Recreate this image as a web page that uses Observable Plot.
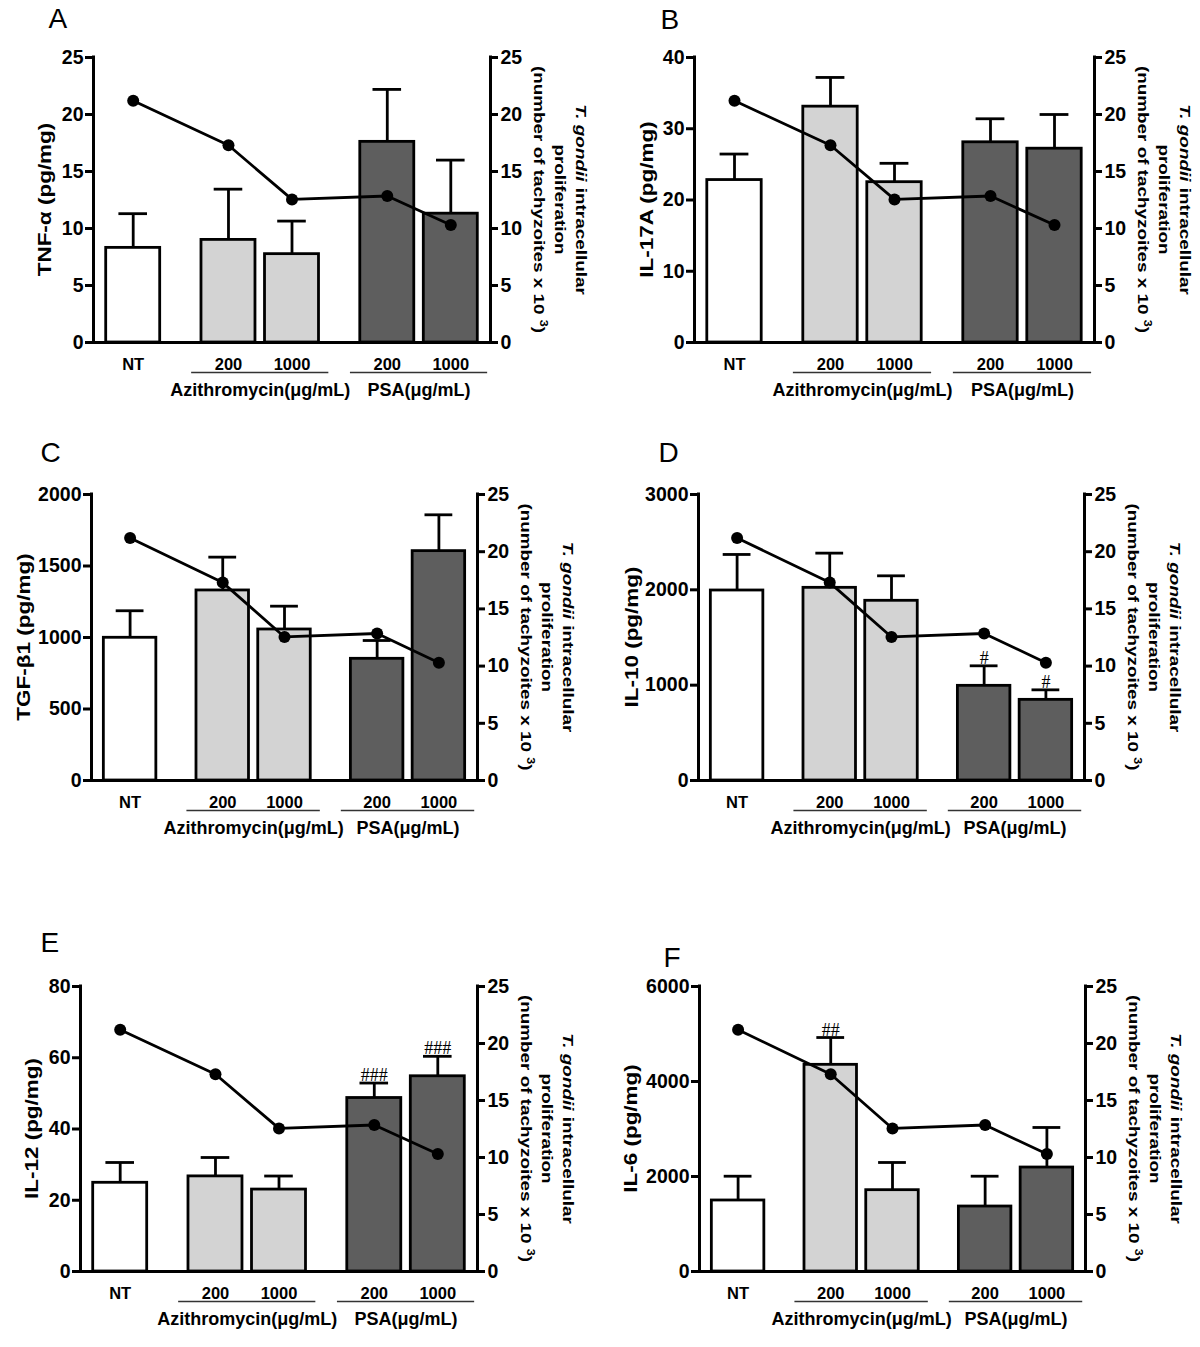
<!DOCTYPE html>
<html><head><meta charset="utf-8">
<script src="https://cdn.jsdelivr.net/npm/d3@7"></script>
<script src="https://cdn.jsdelivr.net/npm/@observablehq/plot@0.6"></script>
<style>
html,body{margin:0;padding:0;background:#fff;}
#fig{position:relative;width:1200px;height:1347px;overflow:hidden;background:#fff;}
.panel{position:absolute;}
</style></head><body><div id="fig"></div>
<script>
// ---------- data ----------
const categories = ["NT", "200", "1000", "200", "1000"];
const groupOf = ["NT", "Azithromycin", "Azithromycin", "PSA", "PSA"];
const groupNames = ["NT", "Azithromycin", "PSA"];
const groupLabels = ["", "Azithromycin(μg/mL)", "PSA(μg/mL)"];
const proliferation = [21.2, 17.3, 12.55, 12.85, 10.3]; // T. gondii x10^3 (right axis)
const rightTicks = [0, 5, 10, 15, 20, 25];

const tnfMean = [8.3, 9.0, 7.75, 17.6, 11.3];
const tnfSem = [3.0, 4.45, 2.9, 4.6, 4.7];
const tnfTicks = [0, 5, 10, 15, 20, 25];

const il17Mean = [22.8, 33.1, 22.5, 28.1, 27.2];
const il17Sem = [3.65, 4.1, 2.65, 3.3, 4.8];
const il17Ticks = [0, 10, 20, 30, 40];

const tgfMean = [998, 1329, 1056, 851, 1604];
const tgfSem = [189, 233, 163, 128, 254];
const tgfTicks = [0, 500, 1000, 1500, 2000];

const il10Mean = [1993, 2021, 1885, 993, 846];
const il10Sem = [378, 364, 262, 210, 105];
const il10Sig = ["", "", "", "#", "#"];
const il10Ticks = [0, 1000, 2000, 3000];

const il12Mean = [24.9, 26.7, 23.0, 48.7, 54.8];
const il12Sem = [5.7, 5.3, 3.8, 4.2, 5.6];
const il12Sig = ["", "", "", "###", "###"];
const il12Ticks = [0, 20, 40, 60, 80];

const il6Mean = [1495, 4351, 1712, 1368, 2189];
const il6Sem = [511, 575, 583, 638, 843];
const il6Sig = ["", "##", "", "", ""];
const il6Ticks = [0, 2000, 4000, 6000];

const panelLetters = ["A", "B", "C", "D", "E", "F"];
const yLabels = ["TNF-α (pg/mg)", "IL-17A (pg/mg)", "TGF-β1 (pg/mg)", "IL-10 (pg/mg)", "IL-12 (pg/mg)", "IL-6 (pg/mg)"];

// ---------- styling / layout ----------
const FONT = "'Liberation Sans', Arial, Helvetica, sans-serif";
const SERIF = "'Liberation Serif', 'Times New Roman', serif";
const groupFill = {NT: "#ffffff", Azithromycin: "#d3d3d3", PSA: "#5e5e5e"};
const X0 = -0.625, X1 = 5.625;
const layout = [
  {left: 0,   top: 0,   h: 420, L: 93,  R: 490,  T: 57,  B: 342,  letter: [-45, -30], titleDx: -42},
  {left: 600, top: 0,   h: 420, L: 694, R: 1094, T: 57,  B: 342,  letter: [-34, -29], titleDx: -41},
  {left: 0,   top: 420, h: 460, L: 91,  R: 477,  T: 494, B: 780,  letter: [-51, -33], titleDx: -61},
  {left: 600, top: 420, h: 460, L: 698, R: 1084, T: 494, B: 780,  letter: [-40, -33], titleDx: -60},
  {left: 0,   top: 900, h: 447, L: 80,  R: 477,  T: 986, B: 1271, letter: [-40, -35], titleDx: -42},
  {left: 600, top: 900, h: 447, L: 699, R: 1085, T: 986, B: 1271, letter: [-36, -20], titleDx: -62}
];

const panels = [
  {mean: tnfMean, sem: tnfSem, sig: null, ticks: tnfTicks},
  {mean: il17Mean, sem: il17Sem, sig: null, ticks: il17Ticks},
  {mean: tgfMean, sem: tgfSem, sig: null, ticks: tgfTicks},
  {mean: il10Mean, sem: il10Sem, sig: il10Sig, ticks: il10Ticks},
  {mean: il12Mean, sem: il12Sem, sig: il12Sig, ticks: il12Ticks},
  {mean: il6Mean, sem: il6Sem, sig: il6Sig, ticks: il6Ticks}
];

function buildRows(pn) {
  return categories.map((c, i) => {
    const g = groupNames.indexOf(groupOf[i]);
    return {cat: c, group: groupOf[i], pos: i + 0.5 * g, mean: pn.mean[i], sem: pn.sem[i],
            top: pn.mean[i] + pn.sem[i], sig: pn.sig ? pn.sig[i] : "", prolif: proliferation[i]};
  });
}
function buildGroups(rows) {
  return groupNames.slice(1).map((gname, k) => {
    const ps = rows.filter(r => r.group === gname).map(r => r.pos);
    const c = d3.mean(ps);
    return {label: groupLabels[k + 1], c, x1: c - 1.08, x2: c + 1.08};
  });
}

function titleMark(p, yLabel) {
  return () => {
    const g = d3.create("svg:g").attr("font-family", FONT).attr("font-weight", "bold").attr("fill", "black");
    const cy = (p.T + p.B) / 2 - p.top;
    const xl = p.L - p.left + p.titleDx;
    g.append("text")
      .attr("transform", `translate(${xl},${cy}) rotate(-90) scale(1.25,1)`)
      .attr("text-anchor", "middle").attr("font-size", 18).text(yLabel);
    const xr = p.R - p.left;
    const t = g.append("g")
      .attr("transform", `translate(${xr + 86},${cy}) rotate(90) scale(1.26,1)`)
      .attr("font-size", 15).attr("text-anchor", "middle");
    const l1 = t.append("text").attr("y", 0);
    l1.append("tspan").attr("font-style", "italic").text("T. gondii");
    l1.append("tspan").attr("dx", 5).text("intracellular");
    t.append("text").attr("y", 21).text("proliferation");
    const l3 = t.append("text").attr("y", 42);
    l3.append("tspan").text("(number of tachyzoites x 10\u00a0");
    l3.append("tspan").attr("font-size", 10).attr("dy", -6).text("3");
    l3.append("tspan").attr("dy", 6).text(")");
    return g.node();
  };
}

const fig = document.getElementById("fig");
panels.forEach((pn, k) => {
  const p = layout[k];
  const rows = buildRows(pn);
  const groups = buildGroups(rows);
  const yMax = d3.max(pn.ticks);
  const toLeft = v => v * yMax / 25;
  const svg = Plot.plot({
    width: 600, height: p.h,
    marginLeft: p.L - p.left, marginRight: p.left + 600 - p.R,
    marginTop: p.T - p.top, marginBottom: p.top + p.h - p.B,
    x: {type: "linear", domain: [X0, X1], axis: null},
    y: {type: "linear", domain: [0, yMax]},
    color: {type: "identity"},
    style: {background: "transparent", overflow: "visible", fontFamily: FONT},
    marks: [
      Plot.rectY(rows, {x1: d => d.pos - 0.425, x2: d => d.pos + 0.425, y: "mean",
        fill: d => groupFill[d.group], stroke: "black", strokeWidth: 2.8}),
      Plot.ruleX(rows, {x: "pos", y1: "mean", y2: "top", stroke: "black", strokeWidth: 2.8}),
      Plot.ruleY(rows, {y: "top", x1: d => d.pos - 0.225, x2: d => d.pos + 0.225, stroke: "black", strokeWidth: 2.8}),
      Plot.text(rows.filter(d => d.sig), {x: "pos", y: "top", text: "sig", dy: -2, lineAnchor: "bottom",
        fontFamily: SERIF, fontSize: 18, fill: "black"}),
      Plot.line(rows, {x: "pos", y: d => toLeft(d.prolif), stroke: "black", strokeWidth: 2.8}),
      Plot.dot(rows, {x: "pos", y: d => toLeft(d.prolif), r: 6, fill: "black"}),
      // axes lines
      Plot.ruleY([0], {stroke: "black", strokeWidth: 3, strokeLinecap: "square"}),
      Plot.ruleX([X0], {y1: 0, y2: yMax, stroke: "black", strokeWidth: 3, strokeLinecap: "square"}),
      Plot.ruleX([X1], {y1: 0, y2: yMax, stroke: "black", strokeWidth: 3, strokeLinecap: "square"}),
      Plot.axisY(pn.ticks, {anchor: "left", label: null, tickSize: 8, tickPadding: 2, strokeWidth: 3,
        tickFormat: d => String(d), fontSize: 19.5, fontWeight: "bold", fontFamily: FONT}),
      Plot.axisY(rightTicks.map(toLeft), {anchor: "right", label: null, tickSize: 7, tickPadding: 3, strokeWidth: 3,
        tickFormat: d => String(Math.round(d * 25 / yMax)), fontSize: 19.5, fontWeight: "bold", fontFamily: FONT}),
      // category labels
      Plot.text(rows, {x: "pos", text: "cat", frameAnchor: "bottom", dy: 27, lineAnchor: "bottom",
        fontSize: 16.5, fontWeight: "bold", fontFamily: FONT, fill: "black"}),
      Plot.ruleY(groups, {y: () => 0, x1: "x1", x2: "x2", dy: 30, stroke: "#333", strokeWidth: 1.3}),
      Plot.text(groups, {x: "c", text: "label", frameAnchor: "bottom", dy: 53, lineAnchor: "bottom",
        fontSize: 18, fontWeight: "bold", fontFamily: FONT, fill: "black"}),
      // panel letter
      Plot.text([panelLetters[k]], {text: d => d, frameAnchor: "top-left", dx: p.letter[0], dy: p.letter[1],
        textAnchor: "start", lineAnchor: "bottom", fontSize: 28, fontFamily: FONT, fill: "black"}),
      titleMark(p, yLabels[k])
    ]
  });
  const div = document.createElement("div");
  div.className = "panel";
  div.style.left = p.left + "px";
  div.style.top = p.top + "px";
  div.appendChild(svg);
  fig.appendChild(div);
});
</script>
</body></html>
